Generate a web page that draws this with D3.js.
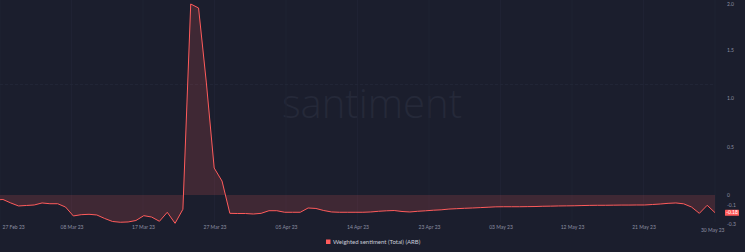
<!DOCTYPE html>
<html><head><meta charset="utf-8">
<script src="https://cdn.jsdelivr.net/npm/d3@7"></script>
<style>
html,body{margin:0;padding:0;background:#1b1e2d;overflow:hidden}
svg{display:block}
</style></head>
<body>
<svg id="chart" width="745" height="252"></svg>
<script>
// Weighted sentiment (Total) (ARB), daily
const dayIndex = d3.range(0, 93);
const sentiment = [
 -0.052,-0.046,-0.082,-0.113,-0.108,-0.103,-0.082,-0.090,-0.090,-0.124,
 -0.216,-0.203,-0.199,-0.206,-0.242,-0.273,-0.281,-0.278,-0.263,-0.213,
 -0.227,-0.271,-0.178,-0.292,-0.147, 1.969, 1.928, 1.155, 0.278, 0.144,
 -0.189,-0.191,-0.191,-0.196,-0.189,-0.162,-0.162,-0.178,-0.178,-0.178,
 -0.134,-0.139,-0.160,-0.175,-0.178,-0.178,-0.178,-0.178,-0.175,-0.168,
 -0.163,-0.160,-0.170,-0.175,-0.168,-0.163,-0.157,-0.153,-0.145,-0.141,
 -0.137,-0.134,-0.130,-0.126,-0.122,-0.121,-0.121,-0.121,-0.120,-0.119,
 -0.116,-0.115,-0.113,-0.112,-0.111,-0.109,-0.107,-0.106,-0.106,-0.105,
 -0.104,-0.104,-0.103,-0.103,-0.098,-0.093,-0.086,-0.082,-0.091,-0.124,
 -0.189,-0.106,-0.182
];
const xTickLabels = ["27 Feb 23","08 Mar 23","17 Mar 23","27 Mar 23","05 Apr 23","14 Apr 23",
  "23 Apr 23","03 May 23","12 May 23","21 May 23","30 May 23"];
const yTickValues = [2, 1.5, 1, 0.5, 0, -0.1, -0.3];
const yTickLabels = ["2.0","1.5","1.0","0.5","0","-0.1","-0.3"];
const gridYValues = [1.14];
const seriesName = "Weighted sentiment (Total) (ARB)";
const lastLabel = "-0.18";

const plot = {left: 0, right: 715};
const svg = d3.select("#chart");
const red = "#ff5b5b";

const x = d3.scaleLinear().domain([0.626, 92]).range([plot.left, plot.right]);
const y = d3.scaleLinear().domain([0, 0.5]).range([195, 146.5]);

// watermark
svg.append("text").attr("x", 372).attr("y", 118).attr("text-anchor", "middle")
  .attr("font-family", "Open Sans, sans-serif").attr("font-weight", 300)
  .attr("font-size", 40).attr("fill", "#252939").text("santiment");

// grid
const tickPos = d3.range(xTickLabels.length).map(i => x.domain()[0] + i * (x.domain()[1] - x.domain()[0]) / (xTickLabels.length - 1));
svg.append("g").selectAll("line").data(tickPos).join("line")
  .attr("x1", d => x(d)).attr("x2", d => x(d)).attr("y1", 0).attr("y2", 222)
  .attr("stroke", "#1f2233").attr("stroke-width", 1);
svg.append("g").selectAll("line").data(gridYValues).join("line")
  .attr("x1", 0).attr("x2", plot.right).attr("y1", d => y(d)).attr("y2", d => y(d))
  .attr("stroke", "#232738").attr("stroke-dasharray", "3,2");

svg.append("clipPath").attr("id", "clip").append("rect")
  .attr("x", plot.left).attr("y", 0).attr("width", plot.right - plot.left + 1).attr("height", 232);

const pts = dayIndex.map((d, i) => [d, sentiment[i]]);
const g = svg.append("g").attr("clip-path", "url(#clip)");
g.append("path").datum(pts)
  .attr("d", d3.area().x(d => x(d[0])).y0(y(0)).y1(d => y(d[1])))
  .attr("fill", red).attr("fill-opacity", 0.16);
g.append("path").datum(pts)
  .attr("d", d3.line().x(d => x(d[0])).y(d => y(d[1])))
  .attr("fill", "none").attr("stroke", red).attr("stroke-width", 1);

// right axis
const yAxis = d3.axisRight(y).tickValues(yTickValues)
  .tickFormat((d, i) => yTickLabels[i]).tickSize(0).tickPadding(0);
const ya = svg.append("g").attr("transform", "translate(727,0)").call(yAxis);
ya.select(".domain").remove();
ya.selectAll("text").attr("font-family", "Lato, sans-serif").attr("font-size", 5)
  .attr("fill", "#8b8fa2").attr("dy", (d, i) => (i === 0 ? "0.9em" : "0.32em"));

// last value label
const lastV = sentiment[sentiment.length - 1];
svg.append("rect").attr("x", 725).attr("y", y(lastV) - 3).attr("width", 14).attr("height", 6)
  .attr("fill", red).attr("rx", 0.5);
svg.append("text").attr("x", 732).attr("y", y(lastV)).attr("dy", "0.35em")
  .attr("text-anchor", "middle").attr("font-family", "Lato, sans-serif")
  .attr("font-size", 5).attr("fill", "#ffffff").text(lastLabel);

// bottom axis
const xAxis = d3.axisBottom(x).tickValues(tickPos)
  .tickFormat((d, i) => xTickLabels[i]).tickSize(0).tickPadding(0);
const xa = svg.append("g").attr("transform", "translate(0,225.5)").call(xAxis);
xa.select(".domain").remove();
xa.selectAll("text").attr("font-family", "Lato, sans-serif").attr("font-size", 5)
  .attr("fill", "#8b8fa2")
  .attr("text-anchor", (d, i) => (i === 0 ? "start" : i === xTickLabels.length - 1 ? "end" : "middle"))
  .attr("dx", (d, i) => (i === 0 ? 2 : i === xTickLabels.length - 1 ? 9 : 0))
  .attr("dy", (d, i) => (i === xTickLabels.length - 1 ? "1.2em" : "0.71em"));

// legend
const leg = svg.append("g").attr("transform", "translate(326,242)");
leg.append("rect").attr("x", 0).attr("y", -2.5).attr("width", 4.5).attr("height", 4.5).attr("fill", red);
leg.append("text").attr("x", 7).attr("y", 0).attr("dy", "0.35em")
  .attr("font-family", "Lato, sans-serif").attr("font-size", 6)
  .attr("fill", "#c9ccd8").text(seriesName);
</script>
</body></html>
